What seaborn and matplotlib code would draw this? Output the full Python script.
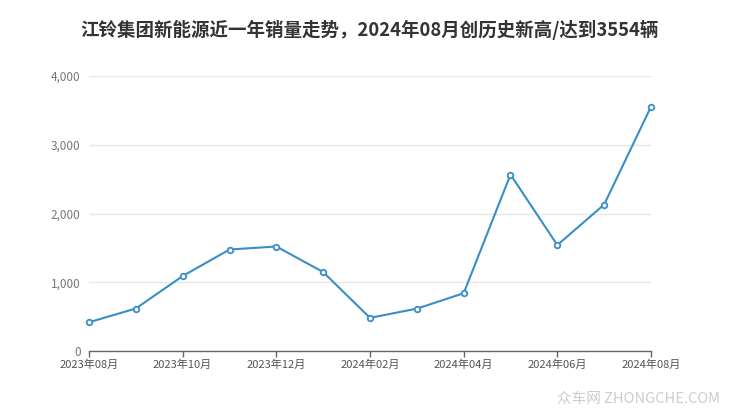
"""
江铃集团新能源近一年销量走势
"""

import seaborn as sns
import matplotlib.pyplot as plt
import matplotlib.ticker as mticker
import pandas as pd

months = ["2023年08月", "2023年09月", "2023年10月", "2023年11月", "2023年12月",
          "2024年01月", "2024年02月", "2024年03月", "2024年04月", "2024年05月",
          "2024年06月", "2024年07月", "2024年08月"]
sales = [418, 618, 1090, 1476, 1520, 1148, 482, 616, 840, 2566, 1541, 2130, 3554]
tick_labels = months[::2]

df = pd.DataFrame({"idx": range(len(months)), "sales": sales})

sns.set_theme(style="white")
plt.rcParams["font.family"] = ["Noto Sans CJK SC", "DejaVu Sans"]

fig = plt.figure(figsize=(7.4, 4.17), dpi=100)
ax = fig.add_axes([89 / 740, 1 - 351 / 417, (651 - 89) / 740, (351 - 76) / 417])

line_color = "#3a8ec6"
sns.lineplot(data=df, x="idx", y="sales", color=line_color, linewidth=1.5,
             marker="o", markersize=4, markerfacecolor="white",
             markeredgecolor=line_color, markeredgewidth=1.3, ax=ax, clip_on=False)

ax.set_xlim(0, len(months) - 1)
ax.set_ylim(0, 4000)
ax.set_xticks(range(0, len(months), 2))
ax.set_xticklabels(tick_labels)
ax.set_yticks([0, 1000, 2000, 3000, 4000])
ax.yaxis.set_major_formatter(mticker.FuncFormatter(lambda v, p: f"{int(v):,}"))

ax.grid(axis="y", color="#e6e6e6", linewidth=1)
ax.set_axisbelow(True)
for s in ["top", "right", "left"]:
    ax.spines[s].set_visible(False)
ax.spines["bottom"].set_color("#666666")
ax.spines["bottom"].set_linewidth(1)
ax.tick_params(axis="x", length=4, width=1, color="#666666", labelsize=8,
               labelcolor="#555555", pad=2, bottom=True)
ax.tick_params(axis="y", length=0, labelsize=8.5, labelcolor="#777777", pad=6)
ax.set_xlabel("")
ax.set_ylabel("")

fig.text(0.5, 1 - 30 / 417, "江铃集团新能源近一年销量走势，2024年08月创历史新高/达到3554辆",
         ha="center", va="center", fontsize=13.3, fontweight="bold", color="#333333")
fig.text(720 / 740, 1 - 399 / 417, "众车网 ZHONGCHE.COM", ha="right", va="center",
         fontsize=10.5, color="#cccccc")

fig.savefig("out.png", dpi=100)
